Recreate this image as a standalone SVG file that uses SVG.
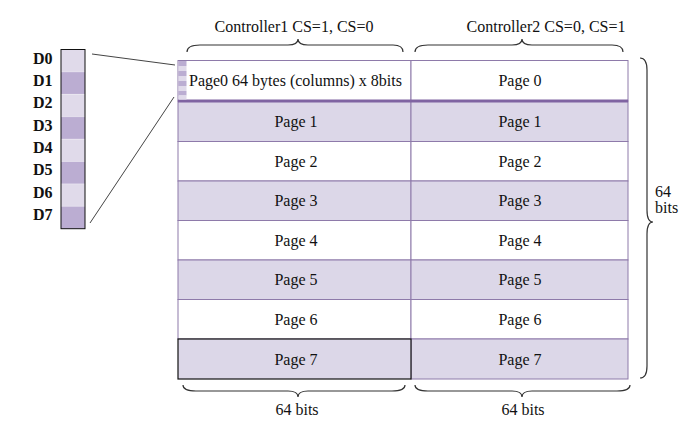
<svg xmlns="http://www.w3.org/2000/svg" width="687" height="423" viewBox="0 0 687 423">
<style>
text{font-family:"Liberation Serif","Times New Roman",serif;font-size:16px;fill:#111}
.c{text-anchor:middle}
.b{font-weight:bold;font-size:16px}
.w{fill:#fff;stroke:#8E7AAA;stroke-width:1}
.p{fill:#DCD7E8;stroke:#8E7AAA;stroke-width:1}
.br{fill:none;stroke:#333;stroke-width:1.2}
.ln{stroke:#444;stroke-width:1;fill:none}
.dl{fill:#E0DAEA}
.dd{fill:#BBADD2}
</style>
<rect width="687" height="423" fill="#fff"/>
<g id="header">
<text class="c" x="294" y="32">Controller1 CS=1, CS=0</text>
<text class="c" x="546" y="32">Controller2 CS=0, CS=1</text>
<path class="br" d="M187,52 Q187,45 200,45 L288,45 Q298,45 298,39 Q298,45 308,45 L393,45 Q403,45 403,52"/>
<path class="br" d="M415,52 Q415,45 428,45 L512,45 Q522,45 522,39 Q522,45 532,45 L612,45 Q623,45 623,52"/>
</g>
<g id="dcol">
<rect x="61" y="49.5" width="24" height="22.4" class="dl"/>
<rect x="61" y="71.9" width="24" height="22.4" class="dd"/>
<rect x="61" y="94.3" width="24" height="22.4" class="dl"/>
<rect x="61" y="116.7" width="24" height="22.4" class="dd"/>
<rect x="61" y="139.1" width="24" height="22.4" class="dl"/>
<rect x="61" y="161.5" width="24" height="22.4" class="dd"/>
<rect x="61" y="183.9" width="24" height="22.4" class="dl"/>
<rect x="61" y="206.3" width="24" height="22.4" class="dd"/>
<g stroke="#fff" stroke-width="0.6" opacity="0.5">
<line x1="61" y1="71.9" x2="85" y2="71.9"/><line x1="61" y1="94.3" x2="85" y2="94.3"/><line x1="61" y1="116.7" x2="85" y2="116.7"/><line x1="61" y1="139.1" x2="85" y2="139.1"/><line x1="61" y1="161.5" x2="85" y2="161.5"/><line x1="61" y1="183.9" x2="85" y2="183.9"/><line x1="61" y1="206.3" x2="85" y2="206.3"/>
</g>
<rect x="61" y="49.5" width="24" height="179.2" fill="none" stroke="#111" stroke-width="1"/>
<text class="b" x="33" y="64">D0</text>
<text class="b" x="33" y="86">D1</text>
<text class="b" x="33" y="108">D2</text>
<text class="b" x="33" y="131">D3</text>
<text class="b" x="33" y="153">D4</text>
<text class="b" x="33" y="175">D5</text>
<text class="b" x="33" y="198">D6</text>
<text class="b" x="33" y="220">D7</text>
</g>
<g id="connectors">
<line class="ln" x1="92" y1="54" x2="175" y2="65" stroke="#777"/>
<line class="ln" x1="90" y1="223" x2="174" y2="97"/>
</g>
<g id="table">
<rect class="w" x="178" y="60.5" width="233" height="40.5"/>
<rect class="w" x="411" y="60.5" width="217" height="40.5"/>
<rect class="p" x="178" y="101" width="233" height="40.5"/>
<rect class="p" x="411" y="101" width="217" height="40.5"/>
<rect class="w" x="178" y="141.5" width="233" height="39.5"/>
<rect class="w" x="411" y="141.5" width="217" height="39.5"/>
<rect class="p" x="178" y="181" width="233" height="39.5"/>
<rect class="p" x="411" y="181" width="217" height="39.5"/>
<rect class="w" x="178" y="220.5" width="233" height="39.5"/>
<rect class="w" x="411" y="220.5" width="217" height="39.5"/>
<rect class="p" x="178" y="260" width="233" height="39.5"/>
<rect class="p" x="411" y="260" width="217" height="39.5"/>
<rect class="w" x="178" y="299.5" width="233" height="39.5"/>
<rect class="w" x="411" y="299.5" width="217" height="39.5"/>
<rect class="p" x="411" y="339" width="217" height="40"/>
<rect x="178" y="339" width="233" height="40" fill="#DCD7E8" stroke="#111" stroke-width="1.2"/>
<line x1="178" y1="101" x2="628" y2="101" stroke="#8064A2" stroke-width="3"/>
<g id="stripe">
<rect x="178.5" y="61" width="8" height="5" class="dd"/>
<rect x="178.5" y="66" width="8" height="5" class="dl"/>
<rect x="178.5" y="71" width="8" height="5" class="dd"/>
<rect x="178.5" y="76" width="8" height="5" class="dl"/>
<rect x="178.5" y="81" width="8" height="5" class="dd"/>
<rect x="178.5" y="86" width="8" height="5" class="dl"/>
<rect x="178.5" y="91" width="8" height="4.5" class="dd"/>
<rect x="178.5" y="95.5" width="8" height="4" class="dl"/>
</g>
<text x="189" y="86">Page0 64 bytes (columns) x 8bits</text>
<text class="c" x="520" y="86">Page 0</text>
<text class="c" x="296" y="127">Page 1</text><text class="c" x="520" y="127">Page 1</text>
<text class="c" x="296" y="167">Page 2</text><text class="c" x="520" y="167">Page 2</text>
<text class="c" x="296" y="206">Page 3</text><text class="c" x="520" y="206">Page 3</text>
<text class="c" x="296" y="246">Page 4</text><text class="c" x="520" y="246">Page 4</text>
<text class="c" x="296" y="285">Page 5</text><text class="c" x="520" y="285">Page 5</text>
<text class="c" x="296" y="325">Page 6</text><text class="c" x="520" y="325">Page 6</text>
<text class="c" x="296" y="365">Page 7</text><text class="c" x="520" y="365">Page 7</text>
</g>
<g id="rightbrace">
<path class="br" d="M640,58 Q647,58 647,70 L647,210 Q647,222 653,222 Q647,222 647,234 L647,366 Q647,378 640,378"/>
<text x="655" y="197">64</text>
<text x="655" y="213">bits</text>
</g>
<g id="footer">
<path class="br" d="M183,385 Q183,391 196,391 L288,391 Q298,391 298,397 Q298,391 308,391 L392,391 Q405,391 405,385"/>
<path class="br" d="M415,385 Q415,391 428,391 L512,391 Q522,391 522,397 Q522,391 532,391 L617,391 Q630,391 630,385"/>
<text class="c" x="297" y="415">64 bits</text>
<text class="c" x="523" y="415">64 bits</text>
</g>
</svg>
